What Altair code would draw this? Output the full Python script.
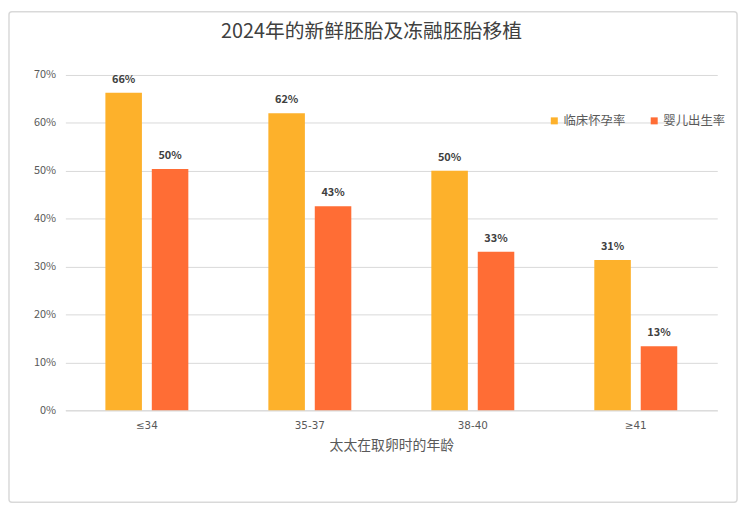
import altair as alt
import pandas as pd

categories = ["≤34", "35-37", "38-40", "≥41"]
series = ["临床怀孕率", "婴儿出生率"]
pregnancy = [66.3, 62.0, 50.0, 31.4]
birth = [50.4, 42.6, 33.1, 13.4]
colors = ["#FDB12B", "#FF6D35"]
y_ticks = [0, 10, 20, 30, 40, 50, 60, 70]

rows = []
for i, c in enumerate(categories):
    rows.append({"age": c, "series": series[0], "value": pregnancy[i]})
    rows.append({"age": c, "series": series[1], "value": birth[i]})
df = pd.DataFrame(rows)
df["label"] = df["value"].round().astype(int).astype(str) + "%"

FONT = "Noto Sans CJK SC"

x = alt.X("age:N", sort=categories,
          scale=alt.Scale(paddingInner=0, paddingOuter=0),
          axis=alt.Axis(title="太太在取卵时的年龄", labelAngle=0, ticks=False,
                        domainColor="#d9d9d9", labelColor="#595959",
                        labelFont="DejaVu Sans", labelFontSize=10.5,
                        labelPadding=10,
                        titleColor="#595959", titleFontSize=14,
                        titleFontWeight="normal", titlePadding=8))
xo = alt.XOffset("series:N", sort=series,
                 scale=alt.Scale(paddingInner=0.213, paddingOuter=0.862))
y = alt.Y("value:Q", scale=alt.Scale(domain=[0, 70]),
          axis=alt.Axis(values=y_ticks, labelExpr="datum.value + '%'",
                        domain=False, ticks=False, grid=True,
                        gridColor="#d9d9d9", labelColor="#595959",
                        labelFontSize=11, labelPadding=10, title=None))
color = alt.Color("series:N", sort=series,
                  scale=alt.Scale(domain=series, range=colors),
                  legend=alt.Legend(title=None, orient="none", legendX=488,
                                    legendY=40, direction="horizontal",
                                    symbolType="square", symbolSize=50,
                                    labelFontSize=12.5, labelColor="#595959",
                                    columnPadding=22, labelOffset=3))

base = alt.Chart(df)
bars = base.mark_bar().encode(x=x, xOffset=xo, y=y, color=color)
text = base.mark_text(dy=-8, baseline="bottom", fontWeight="bold",
                      fontSize=11, color="#404040").encode(
    x=x, xOffset=xo, y=y, text="label:N")

border = alt.Chart(pd.DataFrame({"a": [0]})).mark_rect(
    fillOpacity=0, stroke="#d9d9d9", strokeWidth=1.5, cornerRadius=3
).encode(x=alt.value(-57), x2=alt.value(679), y=alt.value(-64), y2=alt.value(432))

chart = alt.layer(border, bars, text).properties(
    width=659, height=339,
    title=alt.TitleParams("2024年的新鲜胚胎及冻融胚胎移植", fontSize=20,
                          color="#404040", fontWeight="normal", offset=-31,
                          anchor="middle", dx=-20),
    autosize=alt.AutoSizeParams(type="none"),
    padding={"left": 58, "top": 65, "right": 25, "bottom": 95},
).configure(font=FONT).configure_view(stroke=None)

chart.save("out.html", embed_options={"renderer": "svg", "actions": False})
